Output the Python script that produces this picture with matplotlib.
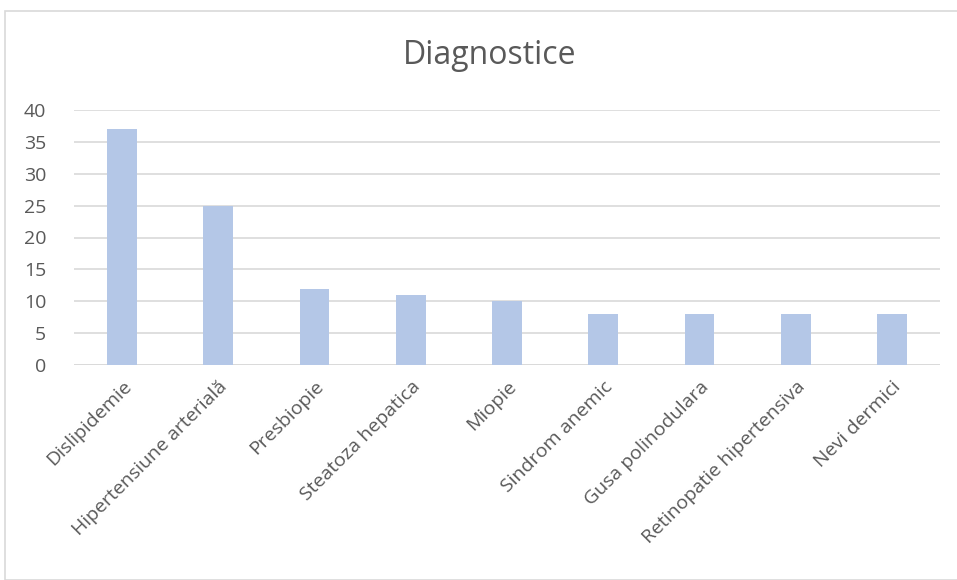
import matplotlib.pyplot as plt
from matplotlib.patches import Rectangle
import numpy as np

plt.rcParams["font.family"] = ["Open Sans", "DejaVu Sans"]

categories = ["Dislipidemie", "Hipertensiune arterială", "Presbiopie",
              "Steatoza hepatica", "Miopie", "Sindrom anemic",
              "Gusa polinodulara", "Retinopatie hipertensiva", "Nevi dermici"]
values = [37, 25, 12, 11, 10, 8, 8, 8, 8]

fig = plt.figure(figsize=(9.57, 5.8), dpi=100)
fig.patches.append(Rectangle((5 / 957, 0), 1, 1 - 11 / 580, transform=fig.transFigure,
                             fill=False, edgecolor="#d9d9d9", linewidth=1.2))

ax = fig.add_axes([74 / 957, 1 - 365 / 580, 866 / 957, 255 / 580])
x = np.arange(len(categories))
ax.bar(x, values, width=0.31, color="#b4c7e7", zorder=3)

ax.set_xlim(-0.5, len(categories) - 0.5)
ax.set_ylim(0, 40)
ax.set_yticks(range(0, 41, 5))
ax.grid(axis="y", color="#d9d9d9", linewidth=1.2, zorder=0)
for s in ax.spines.values():
    s.set_visible(False)
ax.axhline(0, color="#d9d9d9", linewidth=1.2, zorder=2)

ax.set_xticks(x)
ax.set_xticklabels(categories, rotation=45, ha="right", rotation_mode="anchor",
                   fontsize=14, color="#595959")
ax.tick_params(axis="x", length=0, pad=9)
ax.tick_params(axis="y", length=0, pad=20, labelsize=14, labelcolor="#595959")

fig.text(490 / 957, 1 - 55 / 580, "Diagnostice", ha="center", va="center",
         fontsize=23, color="#595959")

fig.savefig("out.png", dpi=100)
